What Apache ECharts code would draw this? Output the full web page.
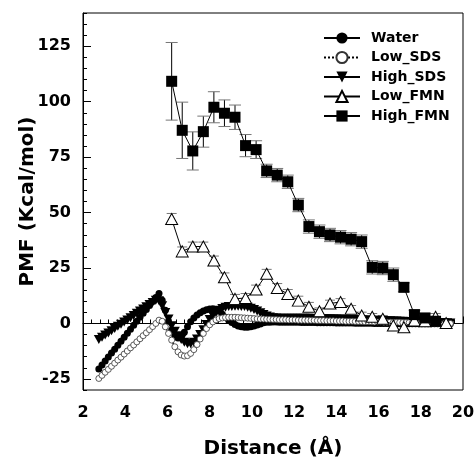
<!DOCTYPE html>
<html>
<head>
<meta charset="utf-8">
<script src="https://cdn.jsdelivr.net/npm/echarts@6/dist/echarts.min.js"></script>
<style>
  html, body { margin: 0; padding: 0; background: #fff; }
  #chart { width: 474px; height: 458px; }
</style>
</head>
<body>
<div id="chart"></div>
<script>
// dense PMF curves (Water / SDS), distance in Å, 0.15 Å apart
const distDense = [
  2.75, 2.90, 3.05, 3.20, 3.35, 3.50, 3.65, 3.80, 3.95, 4.10,
  4.25, 4.40, 4.55, 4.70, 4.85, 5.00, 5.15, 5.30, 5.45, 5.60,
  5.75, 5.90, 6.05, 6.20, 6.35, 6.50, 6.65, 6.80, 6.95, 7.10,
  7.25, 7.40, 7.55, 7.70, 7.85, 8.00, 8.15, 8.30, 8.45, 8.60,
  8.75, 8.90, 9.05, 9.20, 9.35, 9.50, 9.65, 9.80, 9.95, 10.10,
  10.25, 10.40, 10.55, 10.70, 10.85, 11.00, 11.15, 11.30, 11.45, 11.60,
  11.75, 11.90, 12.05, 12.20, 12.35, 12.50, 12.65, 12.80, 12.95, 13.10,
  13.25, 13.40, 13.55, 13.70, 13.85, 14.00, 14.15, 14.30, 14.45, 14.60,
  14.75, 14.90, 15.05, 15.20, 15.35, 15.50, 15.65, 15.80, 15.95, 16.10,
  16.25, 16.40, 16.55, 16.70, 16.85, 17.00, 17.15, 17.30, 17.45, 17.60,
  17.75, 17.90, 18.05, 18.20, 18.35, 18.50, 18.65, 18.80, 18.95, 19.10,
  19.25, 19.40
]
const water = [
  -20.5, -18.7, -16.9, -15.1, -13.3, -11.6, -9.8, -8.0, -6.2, -4.4,
  -2.6, -0.8, 1.0, 2.8, 4.6, 6.3, 8.1, 9.9, 11.7, 13.5,
  10.5, 6.0, 1.0, -3.0, -5.5, -6.5, -6.0, -4.0, -1.5, 0.8,
  2.5, 3.8, 4.8, 5.6, 6.2, 6.5, 6.6, 6.3, 5.5, 4.2,
  2.8, 1.5, 0.4, -0.5, -1.1, -1.5, -1.7, -1.7, -1.5, -1.1,
  -0.7, -0.2, 0.3, 0.5, 0.6, 0.7, 0.7, 0.6, 0.6, 0.5,
  0.5, 0.5, 0.5, 0.5, 0.4, 0.4, 0.4, 0.4, 0.4, 0.3,
  0.3, 0.3, 0.3, 0.3, 0.3, 0.2, 0.2, 0.2, 0.2, 0.2,
  0.2, 0.1, 0.1, 0.1, 0.1, 0.1, 0.1, 0.0, 0.0, 0.0,
  0.0, 0.0, 0.0, 0.0, -0.1, -0.1, -0.1, -0.1, -0.1, -0.1,
  -0.1, -0.1, -0.1, -0.1, -0.1, -0.1, -0.1, -0.1, -0.1, -0.1,
  -0.1, -0.1
]
const lowSds = [
  -24.8, -23.4, -22.0, -20.7, -19.3, -17.9, -16.5, -15.2, -13.8, -12.4,
  -11.0, -9.7, -8.3, -6.9, -5.5, -4.2, -2.8, -1.4, 0.0, 1.5,
  1.0, -1.5, -4.5, -7.5, -10.5, -12.8, -14.2, -14.7, -14.5, -13.5,
  -11.8, -9.5, -7.0, -4.5, -2.3, -0.6, 0.7, 1.6, 2.2, 2.5,
  2.7, 2.8, 2.8, 2.8, 2.7, 2.6, 2.5, 2.4, 2.3, 2.2,
  2.1, 2.0, 2.0, 1.9, 1.9, 1.8, 1.8, 1.7, 1.7, 1.7,
  1.6, 1.6, 1.6, 1.5, 1.5, 1.5, 1.4, 1.4, 1.4, 1.3,
  1.3, 1.3, 1.2, 1.2, 1.2, 1.1, 1.1, 1.1, 1.0, 1.0,
  1.0, 0.9, 0.9, 0.9, 0.8, 0.8, 0.8, 0.7, 0.7, 0.7,
  0.6, 0.6, 0.6, 0.5, 0.5, 0.5, 0.4, 0.4, 0.4, 0.3,
  0.3, 0.3, 0.2, 0.2, 0.2, 0.1, 0.1, 0.1, 0.0, 0.0,
  0.0, 0.0
]
const highSds = [
  -7.2, -6.2, -5.2, -4.3, -3.3, -2.3, -1.3, -0.3, 0.7, 1.6,
  2.6, 3.6, 4.6, 5.6, 6.5, 7.5, 8.5, 9.5, 10.5, 10.3,
  8.0, 5.0, 2.0, -1.0, -3.5, -5.5, -7.2, -8.5, -9.2, -9.2,
  -8.5, -7.0, -5.0, -2.8, -0.5, 1.8, 3.6, 5.0, 6.0, 6.8,
  7.3, 7.6, 7.7, 7.8, 7.8, 7.7, 7.6, 7.3, 6.9, 6.3,
  5.6, 4.8, 4.0, 3.4, 2.9, 2.6, 2.5, 2.4, 2.4, 2.4,
  2.4, 2.4, 2.4, 2.4, 2.3, 2.3, 2.3, 2.3, 2.2, 2.2,
  2.2, 2.1, 2.1, 2.1, 2.0, 2.0, 2.0, 1.9, 1.9, 1.8,
  1.8, 1.7, 1.7, 1.6, 1.6, 1.5, 1.5, 1.4, 1.4, 1.3,
  1.3, 1.2, 1.2, 1.1, 1.1, 1.0, 1.0, 0.9, 0.9, 0.8,
  0.8, 0.7, 0.7, 0.6, 0.6, 0.5, 0.5, 0.4, 0.4, 0.3,
  0.3, 0.2
]

// FMN curves, every 0.5 Å
const distFmn = [6.2, 6.7, 7.2, 7.7, 8.2, 8.7, 9.2, 9.7, 10.2, 10.7, 11.2, 11.7, 12.2, 12.7,
  13.2, 13.7, 14.2, 14.7, 15.2, 15.7, 16.2, 16.7, 17.2, 17.7, 18.2, 18.7, 19.2]
const lowFmn = [47.1, 32.5, 34.7, 34.7, 28.4, 20.8, 11.1, 11.5, 15.3, 22.4, 16.0, 13.3, 10.3, 7.5,
  5.5, 9.0, 9.7, 6.6, 3.6, 3.0, 2.1, -0.9, -1.7, 1.3, 1.0, 3.0, 0.2]
const lowFmnErr = [2.5, 2, 2, 2, 2, 2, 2, 2, 2, 2, 2, 2, 2, 2,
  1.5, 1.5, 1.5, 1.5, 1.5, 1.5, 1.5, 1.5, 1.5, 1.5, 1.5, 1.5, 1.5]
const highFmn = [109.2, 87.1, 77.8, 86.5, 97.5, 94.8, 93.0, 80.2, 78.4, 68.8, 66.9, 63.9, 53.4, 43.7,
  41.4, 39.9, 38.9, 38.0, 36.9, 25.3, 25.0, 22.0, 16.3, 4.0, 2.5, 1.0]
const highFmnErr = [17.5, 12.7, 8.6, 7.0, 7.0, 6.0, 5.5, 5.0, 4.0, 3.0, 3.0, 3.0, 3.0, 3.0,
  3.0, 3.0, 3.0, 3.0, 3.0, 3.0, 3.0, 3.0, 2.0, 2.0, 2.0, 1.0]

const yMajor = [-25, 0, 25, 50, 75, 100, 125]

const FONT = 'DejaVu Sans'

function pairs(xs, ys) {
  return ys.map((y, i) => [xs[i], y])
}
function errRows(xs, ys, es) {
  return ys.map((y, i) => [xs[i], y - es[i], y + es[i]])
}

// vertical error bar with caps
function makeErrorBar(capHalf) {
  return function (params, api) {
    const x = api.value(0)
    const lo = api.coord([x, api.value(1)])
    const hi = api.coord([x, api.value(2)])
    return {
      type: 'group',
      children: [
        { type: 'line', shape: { x1: lo[0], y1: lo[1], x2: hi[0], y2: hi[1] }, style: { stroke: '#000', lineWidth: 1 } },
        { type: 'line', shape: { x1: hi[0] - capHalf, y1: hi[1], x2: hi[0] + capHalf, y2: hi[1] }, style: { stroke: '#777', lineWidth: 1 } },
        { type: 'line', shape: { x1: lo[0] - capHalf, y1: lo[1], x2: lo[0] + capHalf, y2: lo[1] }, style: { stroke: '#777', lineWidth: 1 } }
      ]
    }
  }
}

const chart = echarts.init(document.getElementById('chart'), null, { renderer: 'canvas' })

const option = {
  backgroundColor: '#fff',
  animation: false,
  grid: {
    left: 83, right: 11, top: 13, bottom: 68,
    outerBoundsMode: 'none',
    containLabel: false,
    show: true, borderColor: '#000', borderWidth: 1, backgroundColor: 'transparent'
  },
  legend: {
    orient: 'vertical',
    left: 318, top: 26,
    itemWidth: 36, itemHeight: 14, itemGap: 5.5,
    data: ['Water', 'Low_SDS', 'High_SDS', 'Low_FMN', 'High_FMN'],
    textStyle: { fontFamily: FONT, fontWeight: 'bold', fontSize: 14, color: '#000', padding: [0, 0, 0, 6] }
  },
  xAxis: {
    type: 'value',
    min: 2, max: 20, interval: 2,
    name: 'Distance (Å)',
    nameLocation: 'middle',
    nameGap: 49,
    nameMoveOverlap: false,
    nameTextStyle: { fontFamily: FONT, fontWeight: 'bold', fontSize: 20, color: '#000' },
    axisLine: { lineStyle: { color: '#000', width: 1 } },
    axisTick: { inside: true, length: 7, lineStyle: { color: '#000' } },
    minorTick: { show: true, splitNumber: 5, length: 4, lineStyle: { color: '#000' } },
    axisLabel: { fontFamily: FONT, fontWeight: 'bold', fontSize: 16, color: '#000', margin: 15 },
    splitLine: { show: false }
  },
  yAxis: [
    {
      type: 'value',
      min: -30, max: 140, interval: 5,
      name: 'PMF (Kcal/mol)',
      nameLocation: 'middle',
      nameGap: 45,
      nameMoveOverlap: false,
      nameTextStyle: { fontFamily: FONT, fontWeight: 'bold', fontSize: 20, color: '#000' },
      axisLine: { lineStyle: { color: '#000', width: 1 } },
      axisTick: { inside: true, length: 4, lineStyle: { color: '#000' } },
      axisLabel: {
        fontFamily: FONT, fontWeight: 'bold', fontSize: 16, color: '#000', margin: 12,
        formatter: v => (yMajor.indexOf(v) >= 0 ? String(v) : '')
      },
      splitLine: { show: false }
    },
    {
      type: 'value',
      position: 'left',
      min: -30, max: 140,
      axisLine: { show: false },
      axisTick: { show: true, inside: true, length: 8, customValues: yMajor, lineStyle: { color: '#000' } },
      axisLabel: { show: false },
      splitLine: { show: false }
    }
  ],
  series: [
    {
      name: 'Water', type: 'line', data: pairs(distDense, water),
      symbol: 'circle', symbolSize: 7, showAllSymbol: true,
      itemStyle: { color: '#000' }, lineStyle: { color: '#000', width: 1 }, z: 3
    },
    {
      name: 'Low_SDS', type: 'line', data: pairs(distDense, lowSds),
      symbol: 'circle', symbolSize: 6, showAllSymbol: true,
      itemStyle: { color: '#fff', borderColor: '#333', borderWidth: 0.8 },
      lineStyle: { color: '#000', width: 1.5, type: 'dotted' }, z: 4
    },
    {
      name: 'High_SDS', type: 'line', data: pairs(distDense, highSds),
      symbol: 'triangle', symbolRotate: 180, symbolSize: [10, 9], showAllSymbol: true,
      itemStyle: { color: '#000' }, lineStyle: { color: '#000', width: 1 }, z: 3
    },
    {
      type: 'custom', name: 'Low_FMN err', data: errRows(distFmn, lowFmn, lowFmnErr),
      renderItem: makeErrorBar(5), z: 2, silent: true
    },
    {
      name: 'Low_FMN', type: 'line', data: pairs(distFmn, lowFmn),
      symbol: 'triangle', symbolSize: [12, 11], showAllSymbol: true,
      itemStyle: { color: '#fff', borderColor: '#000', borderWidth: 1 },
      lineStyle: { color: '#000', width: 1 }, z: 5
    },
    {
      type: 'custom', name: 'High_FMN err', data: errRows(distFmn, highFmn, highFmnErr),
      renderItem: makeErrorBar(6), z: 2, silent: true
    },
    {
      name: 'High_FMN', type: 'line', data: pairs(distFmn, highFmn),
      symbol: 'rect', symbolSize: 11, showAllSymbol: true,
      itemStyle: { color: '#000' }, lineStyle: { color: '#000', width: 1 }, z: 5
    }
  ]
}

chart.setOption(option)
</script>
</body>
</html>
